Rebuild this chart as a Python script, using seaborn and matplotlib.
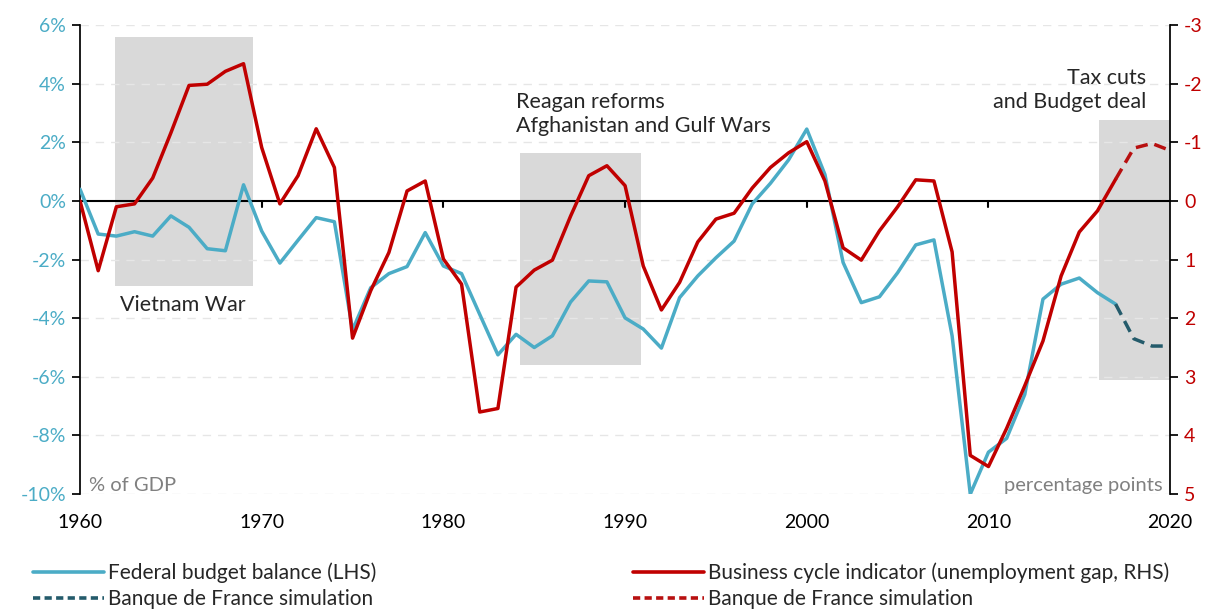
import matplotlib.pyplot as plt
from matplotlib.patches import Rectangle
from matplotlib.lines import Line2D
from matplotlib.ticker import FuncFormatter

import seaborn as sns


sns.set_theme(style="white")
plt.rcParams["font.family"] = ["Lato", "DejaVu Sans"]
plt.rcParams["axes.unicode_minus"] = False

TEAL = "#4BACC6"
DARK_TEAL = "#245B6B"
RED = "#C00000"
RED_SIM = "#B81010"
GREY_BOX = "#D9D9D9"

years = list(range(1960, 2018))
budget = [0.4, -1.13, -1.2, -1.05, -1.2, -0.51, -0.9, -1.63, -1.7, 0.55,
          -1.03, -2.12, -1.34, -0.57, -0.71, -4.4, -2.96, -2.48, -2.24, -1.08,
          -2.22, -2.48, -3.87, -5.25, -4.55, -5.0, -4.6, -3.45, -2.73, -2.76,
          -3.99, -4.37, -5.02, -3.3, -2.56, -1.94, -1.37, -0.1, 0.6, 1.4,
          2.45, 0.9, -2.1, -3.47, -3.27, -2.45, -1.5, -1.33, -4.6, -10.0,
          -8.57, -8.1, -6.6, -3.35, -2.84, -2.63, -3.13, -3.52]
cycle = [0.0, 1.19, 0.1, 0.05, -0.39, -1.16, -1.97, -1.99, -2.21, -2.34,
         -0.91, 0.05, -0.43, -1.23, -0.57, 2.34, 1.53, 0.88, -0.17, -0.34,
         0.99, 1.42, 3.6, 3.54, 1.47, 1.18, 1.01, 0.26, -0.43, -0.6,
         -0.26, 1.11, 1.86, 1.39, 0.70, 0.31, 0.21, -0.22, -0.57, -0.82,
         -1.01, -0.34, 0.8, 1.01, 0.51, 0.1, -0.36, -0.34, 0.87, 4.34,
         4.53, 3.88, 3.15, 2.39, 1.28, 0.53, 0.17, -0.37]

sim_years = [2017, 2018, 2019, 2020]
budget_sim = [-3.52, -4.7, -4.95, -4.95]
cycle_sim = [-0.37, -0.9, -0.98, -0.86]

# shaded periods: (x0, x1, y0, y1) in left-axis units
shades = [(1961.9, 1969.5, -2.9, 5.6),
          (1984.2, 1990.9, -5.6, 1.65),
          (2016.1, 2020.0, -6.1, 2.75)]


@FuncFormatter
def pct_formatter(x, pos):
    return f"{x:.0f}%"


fig = plt.figure(figsize=(12.18, 6.10), dpi=100)
ax = fig.add_axes([0.0657, 0.19, 0.895, 0.769])
ax2 = ax.twinx()

for x0, x1, y0, y1 in shades:
    ax.add_patch(Rectangle((x0, y0), x1 - x0, y1 - y0, color=GREY_BOX, lw=0, zorder=0))

# dashed gridlines, solid zero line
for y in range(-10, 7, 2):
    if y != 0:
        ax.axhline(y, color="#E6E6E6", lw=1, linestyle=(0, (6, 5)), zorder=0.5)
ax.axhline(0, color="black", lw=1.5, zorder=1)

sns.lineplot(x=years, y=budget, color=TEAL, lw=2.5, ax=ax, zorder=3)
sns.lineplot(x=sim_years, y=budget_sim, color=DARK_TEAL, lw=2.5, ax=ax, zorder=3,
             linestyle=(0, (3.5, 2)))
sns.lineplot(x=years, y=cycle, color=RED, lw=2.5, ax=ax2, zorder=3)
sns.lineplot(x=sim_years, y=cycle_sim, color=RED_SIM, lw=2.5, ax=ax2, zorder=3,
             linestyle=(0, (3.5, 2)))

ax.set_xlim(1960, 2020)
ax.set_ylim(-10, 6)
ax2.set_ylim(5, -3)
ax.set_xticks(range(1960, 2021, 10))
ax.set_yticks(range(-10, 7, 2))
ax2.set_yticks(range(-3, 6))
ax.yaxis.set_major_formatter(pct_formatter)
ax.set(xlabel="", ylabel="")
ax2.set(xlabel="", ylabel="")
ax.grid(False)
ax2.grid(False)

for side in ["top", "bottom", "right"]:
    ax.spines[side].set_visible(False)
for side in ["top", "bottom", "left"]:
    ax2.spines[side].set_visible(False)
ax.spines["left"].set_color("black")
ax2.spines["right"].set_color("black")

ax.tick_params(axis="y", colors="black", labelcolor=TEAL, labelsize=14,
               left=True, length=6, direction="out", pad=4)
ax.tick_params(axis="x", labelsize=14, labelcolor="black", bottom=False, pad=8)
ax2.tick_params(axis="y", colors="black", labelcolor=RED, labelsize=14,
                right=True, length=6, direction="out", pad=4)

# small year ticks hanging from the zero line
for yr in range(1970, 2020, 10):
    ax.plot([yr, yr], [0, -0.22], color="black", lw=1.5, zorder=1)

ax.text(1962.2, -3.55, "Vietnam War", fontsize=15.5, va="center", ha="left")
ax.text(1984.0, 2.95, "Reagan reforms\nAfghanistan and Gulf Wars", fontsize=15.5,
        va="center", ha="left", linespacing=1.25)
ax.text(2018.7, 3.8, "Tax cuts\nand Budget deal", fontsize=15.5, va="center", ha="right",
        linespacing=1.25, multialignment="right")
ax.text(1960.5, -9.7, "% of GDP", fontsize=14.5, color="#808080", va="center", ha="left")
ax.text(2019.6, -9.7, "percentage points", fontsize=14.5, color="#808080", va="center", ha="right")

legend_kw = dict(frameon=False, fontsize=15, handlelength=3.4, handletextpad=0.2,
                 labelspacing=0.3, loc="upper left", borderaxespad=0, borderpad=0)
fig.legend([Line2D([], [], color=TEAL, lw=2.6),
            Line2D([], [], color=DARK_TEAL, lw=2.6, linestyle=(0, (2, 1.2)))],
           ["Federal budget balance (LHS)", "Banque de France simulation"],
           bbox_to_anchor=(0.027, 0.078), **legend_kw)
fig.legend([Line2D([], [], color=RED, lw=2.6),
            Line2D([], [], color=RED_SIM, lw=2.6, linestyle=(0, (2, 1.2)))],
           ["Business cycle indicator (unemployment gap, RHS)", "Banque de France simulation"],
           bbox_to_anchor=(0.52, 0.078), **legend_kw)

fig.savefig("out.png", dpi=100)
